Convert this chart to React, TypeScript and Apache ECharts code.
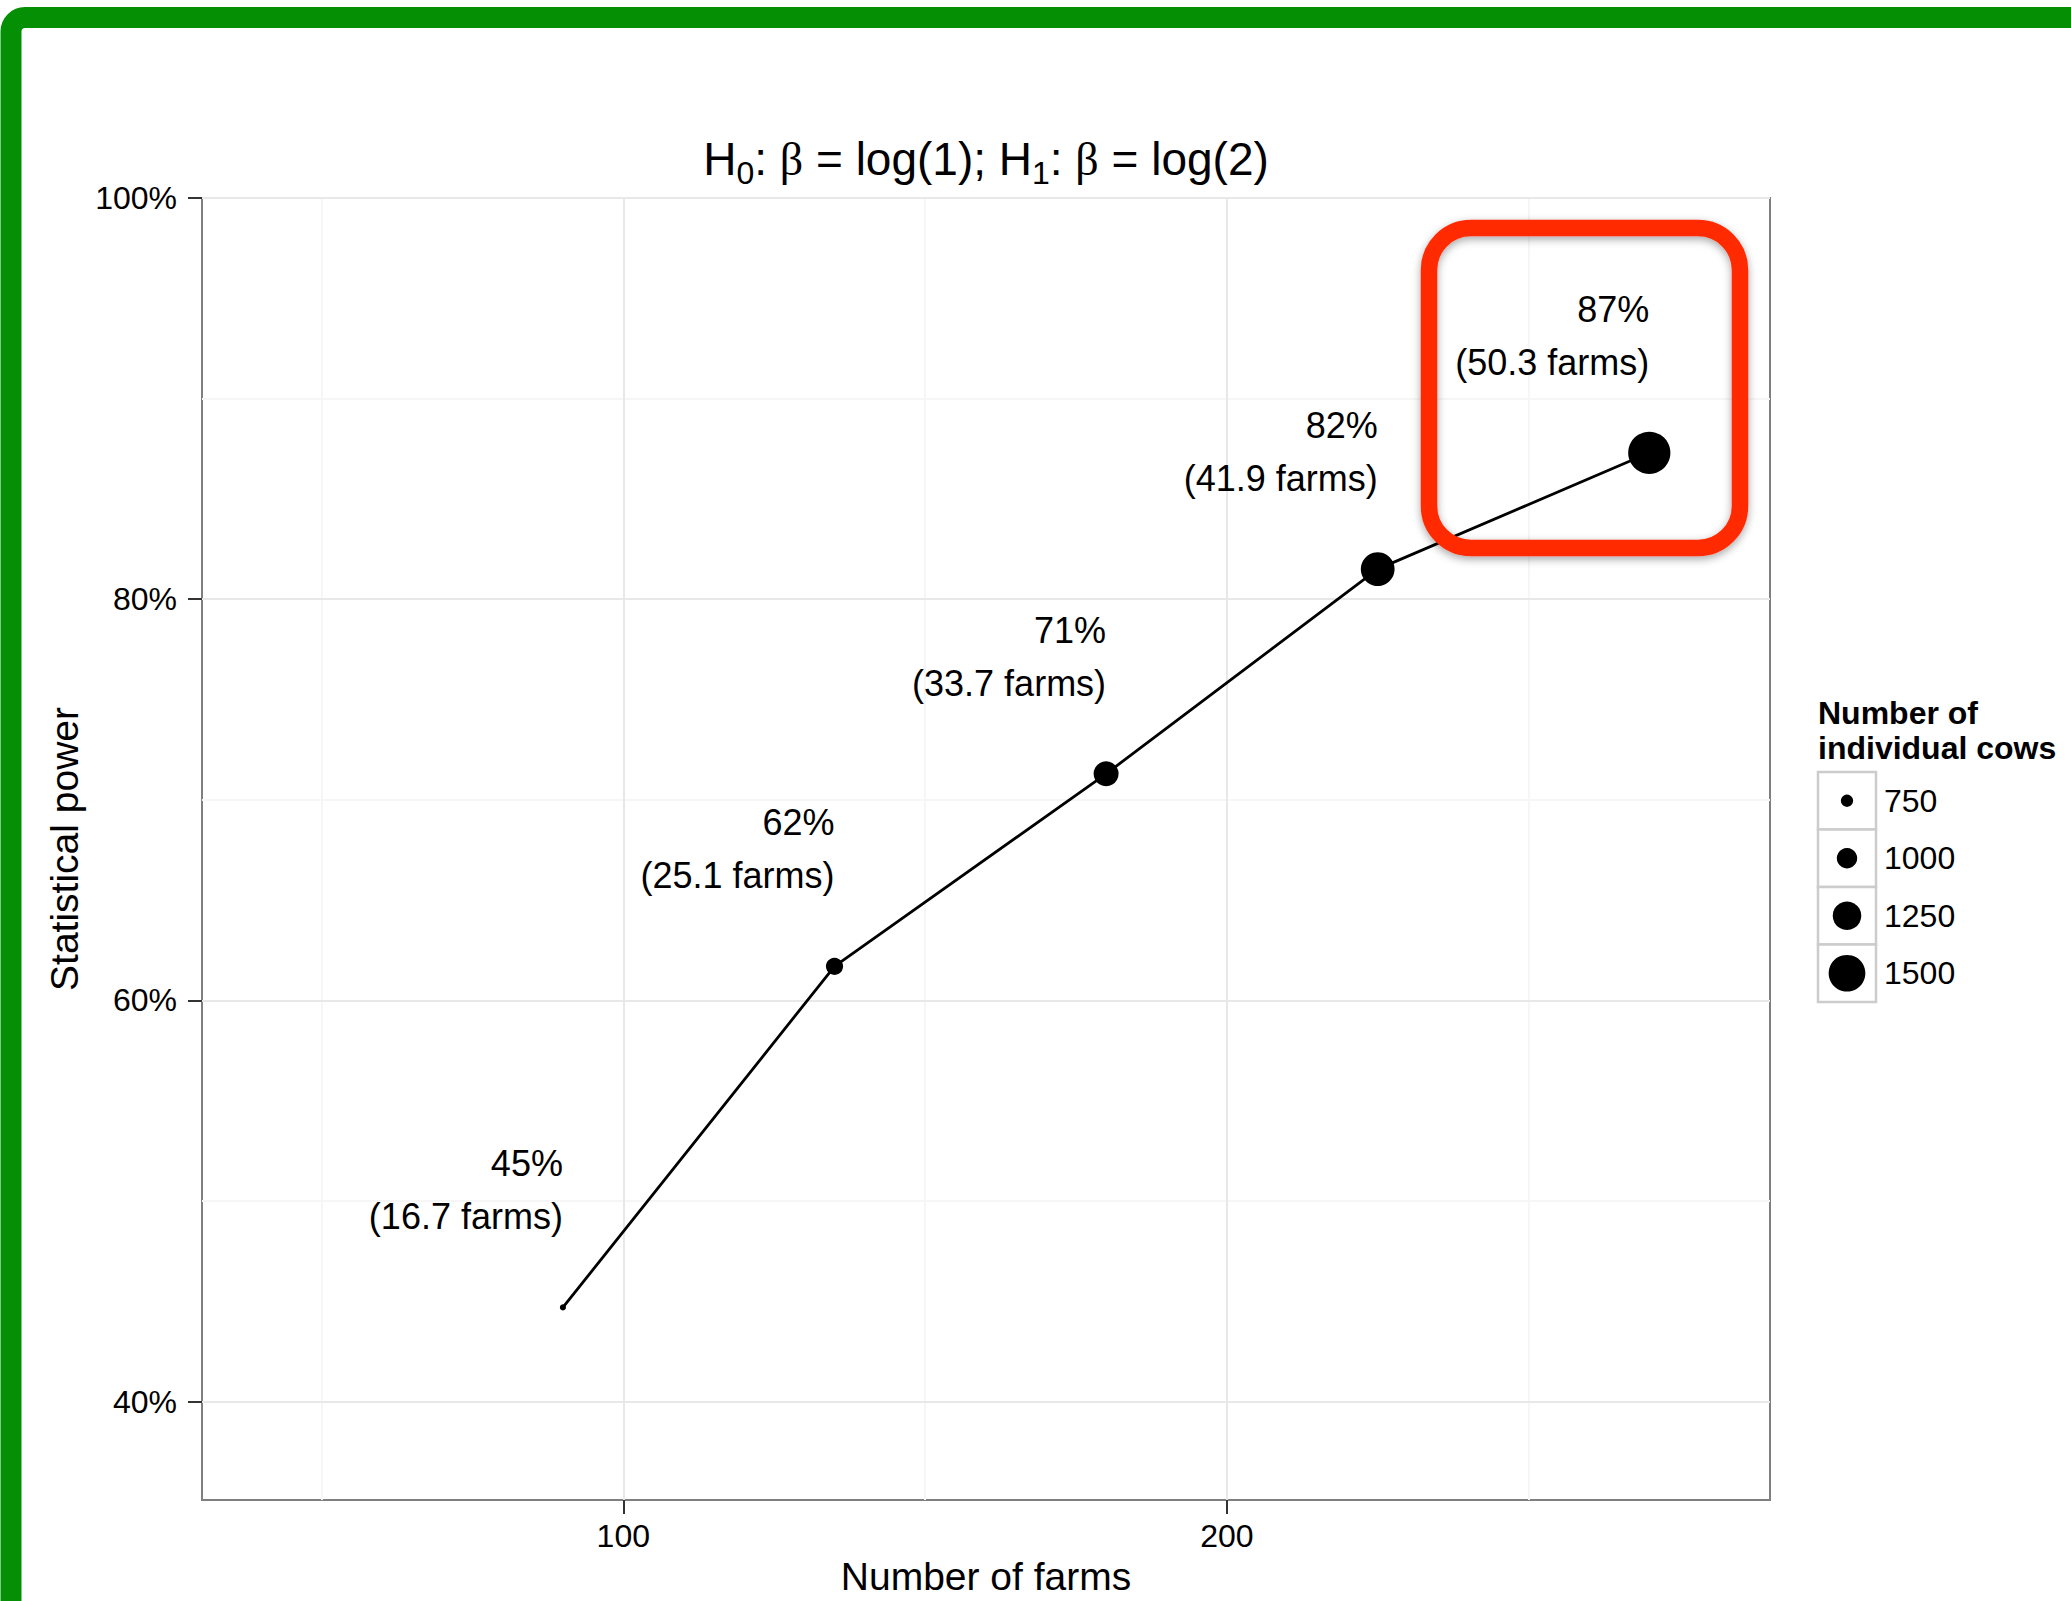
import React, { useEffect, useRef } from 'react';
import * as echarts from 'echarts';

// ---- data ----
const farms = [90, 135, 180, 225, 270];
const power = [44.7, 61.7, 71.3, 81.5, 87.3];
const powerLabels = ['45%', '62%', '71%', '82%', '87%'];
const positiveFarms = ['16.7', '25.1', '33.7', '41.9', '50.3'];
const cows = [560, 900, 1140, 1410, 1670];
const legendBreaks = [750, 1000, 1250, 1500];
const xTicks = [100, 200];
const xMinorGrid = [50, 150, 250];
const yTicks = [40, 60, 80, 100];
const yMinorGrid = [50, 70, 90];

const FONT = '"Liberation Sans", Arial, Helvetica, sans-serif';

function pointDiameter(c: number): number {
  return 12.3 + 0.0325 * (c - 750);
}

export default function App() {
  const ref = useRef<HTMLDivElement>(null);

  useEffect(() => {
    if (!ref.current) return;
    const chart = echarts.init(ref.current, null, { renderer: 'svg' });

    const legendX = 1818;
    const legendTop = 772;
    const keyW = 58;
    const keyH = 57.5;

    const legendChildren: any[] = [];
    legendBreaks.forEach((b, i) => {
      const cy = legendTop + i * keyH + keyH / 2;
      legendChildren.push({
        type: 'rect',
        shape: { x: legendX, y: legendTop + i * keyH, width: keyW, height: keyH },
        style: { fill: '#ffffff', stroke: '#cccccc', lineWidth: 2.5 },
      });
      legendChildren.push({
        type: 'circle',
        shape: { cx: legendX + keyW / 2, cy, r: pointDiameter(b) / 2 },
        style: { fill: '#000000' },
      });
      legendChildren.push({
        type: 'text',
        x: legendX + keyW + 8,
        y: cy,
        style: {
          text: String(b),
          fontSize: 32,
          fontFamily: FONT,
          fill: '#000000',
          align: 'left',
          verticalAlign: 'middle',
        },
      });
    });

    const gridLineData: any[] = [
      ...yMinorGrid.map((v) => ({ yAxis: v, lineStyle: { color: '#f6f6f6', width: 2, type: 'solid' } })),
      ...xMinorGrid.map((v) => ({ xAxis: v, lineStyle: { color: '#f6f6f6', width: 2, type: 'solid' } })),
      ...yTicks.map((v) => ({ yAxis: v, lineStyle: { color: '#e8e8e8', width: 2, type: 'solid' } })),
      ...xTicks.map((v) => ({ xAxis: v, lineStyle: { color: '#e8e8e8', width: 2, type: 'solid' } })),
    ];

    const option: any = {
      animation: false,
      backgroundColor: '#ffffff',
      grid: {
        left: 202,
        right: 301,
        top: 198,
        bottom: 92,
        show: true,
        borderColor: '#7f7f7f',
        borderWidth: 2,
        backgroundColor: '#ffffff',
        containLabel: false,
      },
      xAxis: {
        type: 'value',
        min: 30.2,
        max: 290,
        axisLine: { show: false },
        splitLine: { show: false },
        axisTick: { show: true, customValues: xTicks, length: 14, lineStyle: { color: '#333333', width: 2 } },
        axisLabel: { customValues: xTicks, margin: 20, fontSize: 32, color: '#000000', fontFamily: FONT },
        name: 'Number of farms',
        nameLocation: 'middle',
        nameGap: 57,
        nameTextStyle: { fontSize: 39, color: '#000000', fontFamily: FONT },
      },
      yAxis: {
        type: 'value',
        min: 35.1,
        max: 100,
        axisLine: { show: false },
        splitLine: { show: false },
        axisTick: { show: true, customValues: yTicks, length: 14, lineStyle: { color: '#333333', width: 2 } },
        axisLabel: {
          customValues: yTicks,
          margin: 25,
          fontSize: 32,
          color: '#000000',
          fontFamily: FONT,
          formatter: '{value}%',
        },
        name: 'Statistical power',
        nameLocation: 'middle',
        nameGap: 110,
        nameTextStyle: { fontSize: 39, color: '#000000', fontFamily: FONT },
      },
      series: [
        {
          type: 'line',
          z: 1,
          silent: true,
          data: [[farms[0], power[0]]],
          symbol: 'none',
          lineStyle: { opacity: 0 },
          markLine: {
            z: 1,
            silent: true,
            animation: false,
            symbol: ['none', 'none'],
            label: { show: false },
            emphasis: { disabled: true },
            data: gridLineData,
          },
        },
        {
          type: 'line',
          z: 3,
          data: farms.map((f, i) => [f, power[i]]),
          symbol: 'circle',
          showAllSymbol: true,
          symbolSize: (_v: any, p: any) => pointDiameter(cows[p.dataIndex]),
          itemStyle: { color: '#000000', borderWidth: 0 },
          lineStyle: { color: '#000000', width: 2.8 },
          emphasis: { disabled: true },
          label: {
            show: true,
            position: 'inside',
            align: 'right',
            verticalAlign: 'bottom',
            offset: [0, -64],
            color: '#000000',
            fontSize: 36,
            lineHeight: 53,
            fontFamily: FONT,
            formatter: (p: any) => `${powerLabels[p.dataIndex]}\n(${positiveFarms[p.dataIndex]} farms)`,
          },
        },
      ],
      graphic: [
        {
          type: 'text',
          x: 986,
          y: 159,
          z: 50,
          style: {
            text: '{n|H}{s|0}{n|: }{b|β}{n| = log(1); H}{s|1}{n|: }{b|β}{n| = log(2)}',
            align: 'center',
            verticalAlign: 'middle',
            fill: '#000000',
            rich: {
              n: { fontSize: 46, lineHeight: 60, fontFamily: FONT, fill: '#000000', verticalAlign: 'middle' },
              b: { fontSize: 46, lineHeight: 60, fontFamily: '"Liberation Serif", "DejaVu Serif", serif', fill: '#000000', verticalAlign: 'middle' },
              s: { fontSize: 32, lineHeight: 30, fontFamily: FONT, fill: '#000000', verticalAlign: 'bottom' },
            },
          },
        },
        {
          type: 'text',
          x: legendX,
          y: 695,
          z: 50,
          style: {
            text: 'Number of\nindividual cows',
            fontSize: 32,
            lineHeight: 35,
            fontWeight: 'bold',
            fontFamily: FONT,
            fill: '#000000',
            align: 'left',
            verticalAlign: 'top',
          },
        },
        { type: 'group', z: 50, children: legendChildren },
        {
          type: 'rect',
          z: 100,
          shape: { x: 1429, y: 228, width: 311, height: 320, r: 42 },
          style: {
            fill: 'none',
            stroke: '#ff2a00',
            lineWidth: 16.5,
            shadowBlur: 8,
            shadowOffsetY: 3,
            shadowColor: 'rgba(0,0,0,0.35)',
          },
        },
        {
          type: 'rect',
          z: 100,
          shape: { x: 11, y: 17.5, width: 2300, height: 2000, r: 14 },
          style: { fill: 'none', stroke: '#058f05', lineWidth: 21 },
        },
      ],
    };

    chart.setOption(option);
    return () => {
      chart.dispose();
    };
  }, []);

  return (
    <div
      ref={ref}
      style={{ position: 'absolute', left: 0, top: 0, width: 2071, height: 1601, background: '#ffffff' }}
    />
  );
}
